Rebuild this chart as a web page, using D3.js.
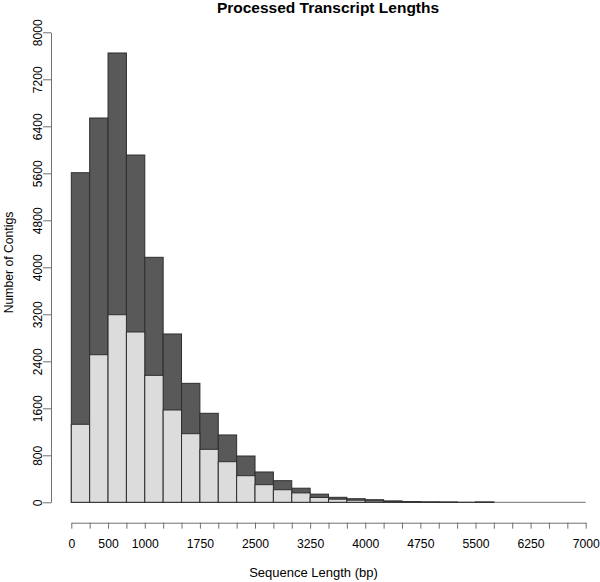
<!DOCTYPE html>
<html>
<head>
<meta charset="utf-8">
<script src="https://cdn.jsdelivr.net/npm/d3@7"></script>
<style>
  html, body { margin: 0; padding: 0; background: #fff; }
  svg { display: block; font-family: "Liberation Sans", Arial, Helvetica, sans-serif; }
</style>
</head>
<body>
<svg id="chart" width="600" height="582"></svg>
<script>
// Histogram bins of width 250 bp, from 0 to 7000
const binStarts = d3.range(0, 7000, 250);
const totalCounts = [5610, 6541, 7648, 5911, 4170, 2865, 2025, 1515, 1146, 788,
                     516, 368, 240, 139, 85, 61, 44, 24, 12, 6,
                     4, 1, 5, 0, 0, 0, 0, 0];
const subsetCounts = [1328, 2512, 3193, 2899, 2161, 1571, 1168, 902, 691, 453,
                      300, 214, 160, 82, 53, 36, 23, 12, 5, 3,
                      2, 0, 2, 0, 0, 0, 0, 0];
const xTickValues = d3.range(0, 7001, 250);
const xTickLabels = [0, 500, 1000, 1750, 2500, 3250, 4000, 4750, 5500, 6250, 7000];
const yTickValues = d3.range(0, 8001, 800);
const binWidth = 250;

const svg = d3.select("#chart");
const x = d3.scaleLinear().domain([0, 7000]).range([71.3, 585.7]);
const y = d3.scaleLinear().domain([0, 8000]).range([502.3, 32.3]);

const darkFill = "#595959", lightFill = "#dcdcdc", edge = "#2e2e2e", axisCol = "#707070";

// baseline for empty bins
svg.append("line")
  .attr("x1", x(0)).attr("x2", x(7000))
  .attr("y1", y(0)).attr("y2", y(0))
  .attr("stroke", axisCol).attr("stroke-width", 1);

const totals = binStarts.map((s, i) => ({s, v: totalCounts[i]})).filter(d => d.v > 0);
const subs = binStarts.map((s, i) => ({s, v: subsetCounts[i]})).filter(d => d.v > 0);

svg.append("g").selectAll("rect").data(totals).join("rect")
  .attr("x", d => x(d.s))
  .attr("width", d => x(d.s + binWidth) - x(d.s))
  .attr("y", d => y(d.v))
  .attr("height", d => y(0) - y(d.v))
  .attr("fill", darkFill).attr("stroke", edge).attr("stroke-width", 1);

svg.append("g").selectAll("rect").data(subs).join("rect")
  .attr("x", d => x(d.s))
  .attr("width", d => x(d.s + binWidth) - x(d.s))
  .attr("y", d => y(d.v))
  .attr("height", d => y(0) - y(d.v))
  .attr("fill", lightFill).attr("stroke", edge).attr("stroke-width", 1);

// X axis (offset below the plot)
const xAxis = d3.axisBottom(x)
  .tickValues(xTickValues)
  .tickSize(6).tickSizeOuter(0)
  .tickFormat(d => xTickLabels.includes(d) ? String(d) : "");
const gx = svg.append("g").attr("transform", "translate(0,522.7)").call(xAxis);
gx.select(".domain").attr("stroke", axisCol);
gx.selectAll(".tick line").attr("stroke", axisCol);
gx.selectAll(".tick text")
  .attr("y", 25.3).attr("dy", "0")
  .attr("fill", "#000")
  .style("font-size", "12.2px")
  .style("font-family", '"Liberation Sans", Arial, sans-serif');

// Y axis
const yAxis = d3.axisLeft(y)
  .tickValues(yTickValues)
  .tickSize(8).tickSizeOuter(0)
  .tickFormat(d3.format("d"));
const gy = svg.append("g").attr("transform", "translate(51,0)").call(yAxis);
gy.select(".domain").attr("stroke", axisCol);
gy.selectAll(".tick line").attr("stroke", axisCol);
gy.selectAll(".tick text")
  .attr("transform", "rotate(-90)")
  .attr("x", 0).attr("y", -9.5).attr("dy", "0")
  .attr("text-anchor", "middle")
  .attr("fill", "#000")
  .style("font-size", "12px")
  .style("font-family", '"Liberation Sans", Arial, sans-serif');

// Title
svg.append("text")
  .attr("x", 328).attr("y", 13)
  .attr("text-anchor", "middle")
  .style("font-size", "15.5px").style("font-weight", "bold")
  .text("Processed Transcript Lengths");

// Axis labels
svg.append("text")
  .attr("x", 313.5).attr("y", 577.3)
  .attr("text-anchor", "middle")
  .style("font-size", "13px")
  .text("Sequence Length (bp)");

svg.append("text")
  .attr("transform", "translate(12.5,262.5) rotate(-90)")
  .attr("text-anchor", "middle")
  .style("font-size", "12.2px")
  .text("Number of Contigs");
</script>
</body>
</html>
